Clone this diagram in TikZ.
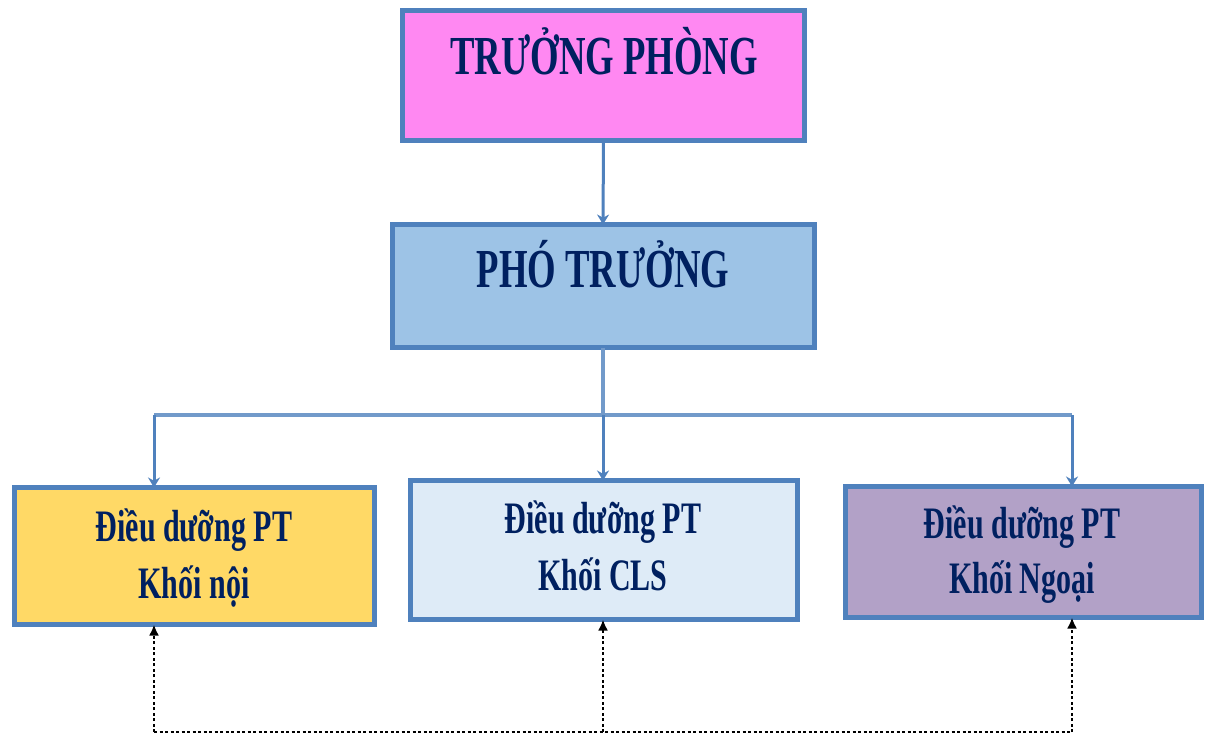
\documentclass[tikz,border=0pt]{standalone}
\usepackage{fontspec}
\newfontfamily\tfont[FakeStretch=0.667]{Liberation Serif}
\usetikzlibrary{arrows.meta}
\definecolor{bord}{HTML}{4F81BD}
\definecolor{navy}{HTML}{002060}
\definecolor{cpink}{HTML}{FF88F2}
\definecolor{cblue}{HTML}{9DC3E6}
\definecolor{cyel}{HTML}{FFD966}
\definecolor{clblue}{HTML}{DEEBF7}
\definecolor{cpurp}{HTML}{B2A1C7}
\tikzset{
  box/.style={draw=bord, line width=5pt, inner sep=0pt, outer sep=0pt},
  big/.style={text=navy, font=\tfont\bfseries\fontsize{55}{60}\selectfont, anchor=base, inner sep=0pt},
  mid/.style={text=navy, font=\tfont\bfseries\fontsize{45}{50}\selectfont, anchor=base, inner sep=0pt},
  blink/.style={draw=bord, line width=3pt, -{Stealth[length=10pt,width=12pt]}},
  bline/.style={draw=bord!80, line width=3.5pt},
  dotl/.style={draw=black, line width=2.5pt, dash pattern=on 3pt off 2.5pt},
  dotarr/.style={dotl, -{Latex[length=11pt,width=10pt]}}
}
\begin{document}
\begin{tikzpicture}[x=1pt,y=-1pt]
\useasboundingbox[fill=white] (0,0) rectangle (1206,738);
% boxes
\node[box, fill=cpink, minimum width=402pt, minimum height=130pt] (b1) at (603.5,75.5) {};
\node[box, fill=cblue, minimum width=422pt, minimum height=123pt] (b2) at (603.5,286) {};
\node[box, fill=cyel, minimum width=360pt, minimum height=137pt] (b3) at (194.5,556) {};
\node[box, fill=clblue, minimum width=387pt, minimum height=139pt] (b4) at (604,550) {};
\node[box, fill=cpurp, minimum width=356pt, minimum height=131pt] (b5) at (1023.5,552) {};
% texts
\node[big] (t1) at (604,75) {TRƯỞNG PHÒNG};
\node[big] (t2) at (603,287) {PHÓ TRƯỞNG};
\node[mid] (t3a) at (194,541.7) {Điều dưỡng PT};
\node[mid] (t3b) at (194,598) {Khối nội};
\node[mid] (t4a) at (603,533) {Điều dưỡng PT};
\node[mid] (t4b) at (603,590) {Khối CLS};
\node[mid] (t5a) at (1022,538) {Điều dưỡng PT};
\node[mid] (t5b) at (1022,593) {Khối Ngoại};
% solid connectors
\draw[blink] (b1.south) -- ([xshift=-0.5pt]b2.north);
\coordinate (bus) at (603,415);
\coordinate (busl) at (154,415);
\coordinate (busr) at (1072,415);
\draw[bline] ([xshift=-0.5pt]b2.south) -- (bus);
\draw[bline] (busl) -- (busr);
\draw[blink] (busl) -- ([xshift=-40.5pt]b3.north);
\draw[blink] (bus) -- ([xshift=-1pt]b4.north);
\draw[blink] (busr) -- ([xshift=48.5pt]b5.north);
% dotted connectors
\coordinate (dl) at (154,732);
\coordinate (dm) at (603,732);
\coordinate (dr) at (1072,732);
\draw[dotl] (dl) -- (dr);
\draw[dotarr] (dl) -- ([xshift=-40.5pt]b3.south);
\draw[dotarr] (dm) -- ([xshift=-1pt]b4.south);
\draw[dotarr] (dr) -- ([xshift=48.5pt]b5.south);
\end{tikzpicture}
\end{document}
